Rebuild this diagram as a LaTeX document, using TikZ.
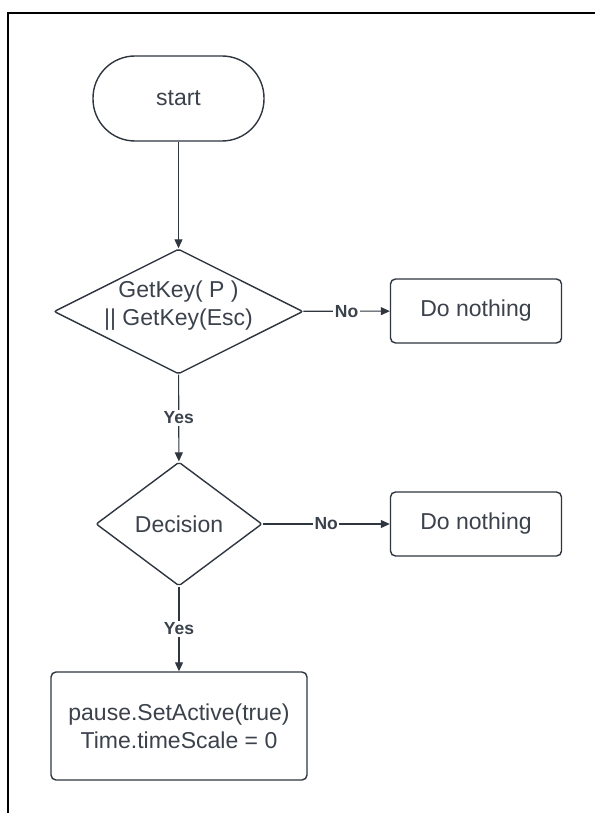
\documentclass[tikz,border=0pt]{standalone}
\usepackage{fontspec}
\setmainfont{Liberation Sans}
\usetikzlibrary{shapes.geometric,arrows.meta}
\definecolor{ink}{HTML}{2F3640}
\definecolor{txt}{HTML}{3B424C}
\begin{document}
\begin{tikzpicture}[x=1pt,y=-1pt,
  every node/.style={font=\fontsize{23}{28}\selectfont, text=txt},
  terminal/.style={draw=ink, line width=1.4pt, rectangle, rounded corners=42pt,
    minimum width=171pt, minimum height=85pt},
  decision/.style={draw=ink, line width=1.4pt, diamond, inner sep=0pt, rounded corners=2pt},
  process/.style={draw=ink, line width=1.4pt, rectangle, rounded corners=5pt},
  flow/.style={draw=ink, line width=1.1pt, -{Triangle[length=9pt,width=8pt]}},
  lbl/.style={font=\bfseries\fontsize{17.5}{20}\selectfont, fill=white, inner sep=1.5pt}
]
\useasboundingbox (0,0) rectangle (595,813);
\fill[white] (0,0) rectangle (595,813);

% outer frame (top and left edges)
\draw[line width=1.5pt, black] (595,13) -- (8,13) -- (8,813);

% nodes
\node[terminal] (start) at (178.5,98.5) {start};
\node[decision, minimum width=249pt, minimum height=125pt] (d1) at (178.5,311.5) {};
\node[align=center] (d1t) at (178.5,306) {GetKey( P )\\|| GetKey(Esc)};
\node[process, minimum width=171pt, minimum height=64pt] (n1) at (476,311) {Do nothing};

\node[decision, minimum width=166pt, minimum height=124pt] (d2) at (179,524) {};
\node (d2t) at (d2.center) {Decision};
\node[process, minimum width=171pt, minimum height=64pt] (n2) at (476,524) {Do nothing};

\node[process, minimum width=256pt, minimum height=108pt, align=center] (act) at (179,726)
  {pause.SetActive(true)\\Time.timeScale = 0};

% connectors
\draw[flow] (start) -- (d1);
\draw[flow] (d1) -- node[lbl] {No} (n1);
\draw[flow] (d1) -- node[lbl] {Yes} (d2);
\draw[flow] (d2) -- node[lbl] {No} (n2);
\draw[flow] (d2) -- node[lbl] {Yes} (act);
\end{tikzpicture}
\end{document}
